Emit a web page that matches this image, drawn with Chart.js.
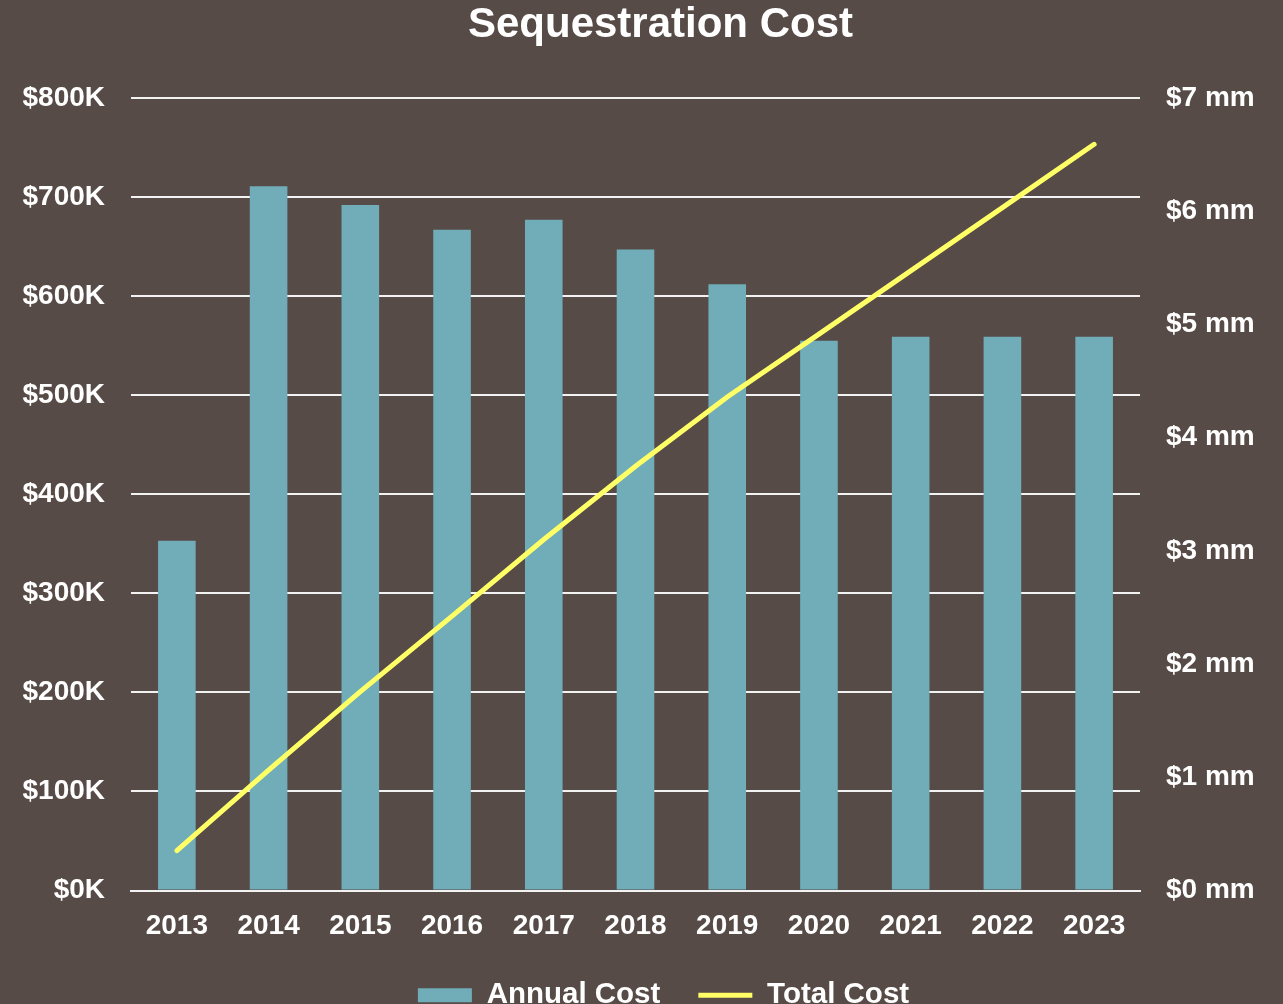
<!DOCTYPE html>
<html>
<head>
<meta charset="utf-8">
<script src="https://cdn.jsdelivr.net/npm/chart.js@4"></script>
<style>
  html, body { margin: 0; padding: 0; background: #564b46; overflow: hidden; }
  #wrap { width: 1283px; height: 1020px; }
</style>
</head>
<body>
<div id="wrap"><canvas id="grafico"></canvas></div>
<script>
// dados
const anos = ["2013", "2014", "2015", "2016", "2017", "2018", "2019", "2020", "2021", "2022", "2023"];
const custoAnual = [353, 711, 692, 667, 677, 647, 612, 555, 559, 559, 559]; // $K
const custoTotal = [0.353, 1.064, 1.756, 2.423, 3.100, 3.747, 4.359, 4.914, 5.473, 6.032, 6.591]; // $ mm

const fonte = "'Liberation Sans', Arial, sans-serif";
const branco = "#ffffff";

const grafico = document.getElementById("grafico");

const data = {
    labels: anos,
    datasets: [
        {
            type: "line",
            label: "Total Cost",
            data: custoTotal,
            yAxisID: "y2",
            borderColor: "#ffff66",
            backgroundColor: "#ffff66",
            borderWidth: 5,
            borderCapStyle: "round",
            pointRadius: 0,
            pointStyle: "line",
            tension: 0,
            order: 0,
        },
        {
            type: "bar",
            label: "Annual Cost",
            data: custoAnual,
            yAxisID: "y",
            backgroundColor: "#70adb9",
            borderWidth: 0,
            barPercentage: 0.41,
            categoryPercentage: 1,
            pointStyle: "rect",
            order: 1,
        },
    ],
};

const options = {
    responsive: true,
    maintainAspectRatio: false,
    animation: false,
    layout: { padding: { left: 0, right: 0, top: 0, bottom: 0 } },
    scales: {
        x: {
            grid: { display: false, drawTicks: false },
            border: { display: true, color: "#f2f2f2", width: 2 },
            ticks: {
                color: branco,
                padding: 19,
                font: { family: fonte, size: 28, weight: "bold" },
            },
            afterFit: (scale) => { scale.height = 52; },
        },
        y: {
            position: "left",
            min: 0,
            max: 800,
            grid: { color: "#f2f2f2", lineWidth: 2, drawTicks: false },
            border: { display: false },
            ticks: {
                stepSize: 100,
                color: branco,
                padding: 26,
                font: { family: fonte, size: 28, weight: "bold" },
                callback: (v) => "$" + v + "K",
            },
            afterFit: (scale) => { scale.width = 131; },
        },
        y2: {
            position: "right",
            min: 0,
            max: 7,
            grid: { display: false, drawTicks: false },
            border: { display: false },
            ticks: {
                stepSize: 1,
                color: branco,
                padding: 26,
                font: { family: fonte, size: 28, weight: "bold" },
                callback: (v) => "$" + v + " mm",
            },
            afterFit: (scale) => { scale.width = 143; },
        },
    },
    plugins: {
        title: {
            display: true,
            text: "Sequestration Cost",
            color: branco,
            font: { family: fonte, size: 42, weight: "bold" },
            padding: { top: 0, bottom: 47.6 },
        },
        legend: {
            display: true,
            position: "bottom",
            reverse: true,
            labels: {
                color: branco,
                font: { family: fonte, size: 29.5, weight: "bold" },
                usePointStyle: true,
                pointStyleWidth: 54,
                boxHeight: 14,
                padding: 38,
            },
        },
        tooltip: { enabled: false },
    },
};

// desloca título e legenda um pouco para a direita, como no original
const deslocar = {
    id: "deslocar",
    afterLayout(chart) {
        chart.titleBlock.left += 38;
        chart.legend.left += 44;
    },
};

new Chart(grafico, {
    data: data,
    options: options,
    plugins: [deslocar],
});
</script>
</body>
</html>
